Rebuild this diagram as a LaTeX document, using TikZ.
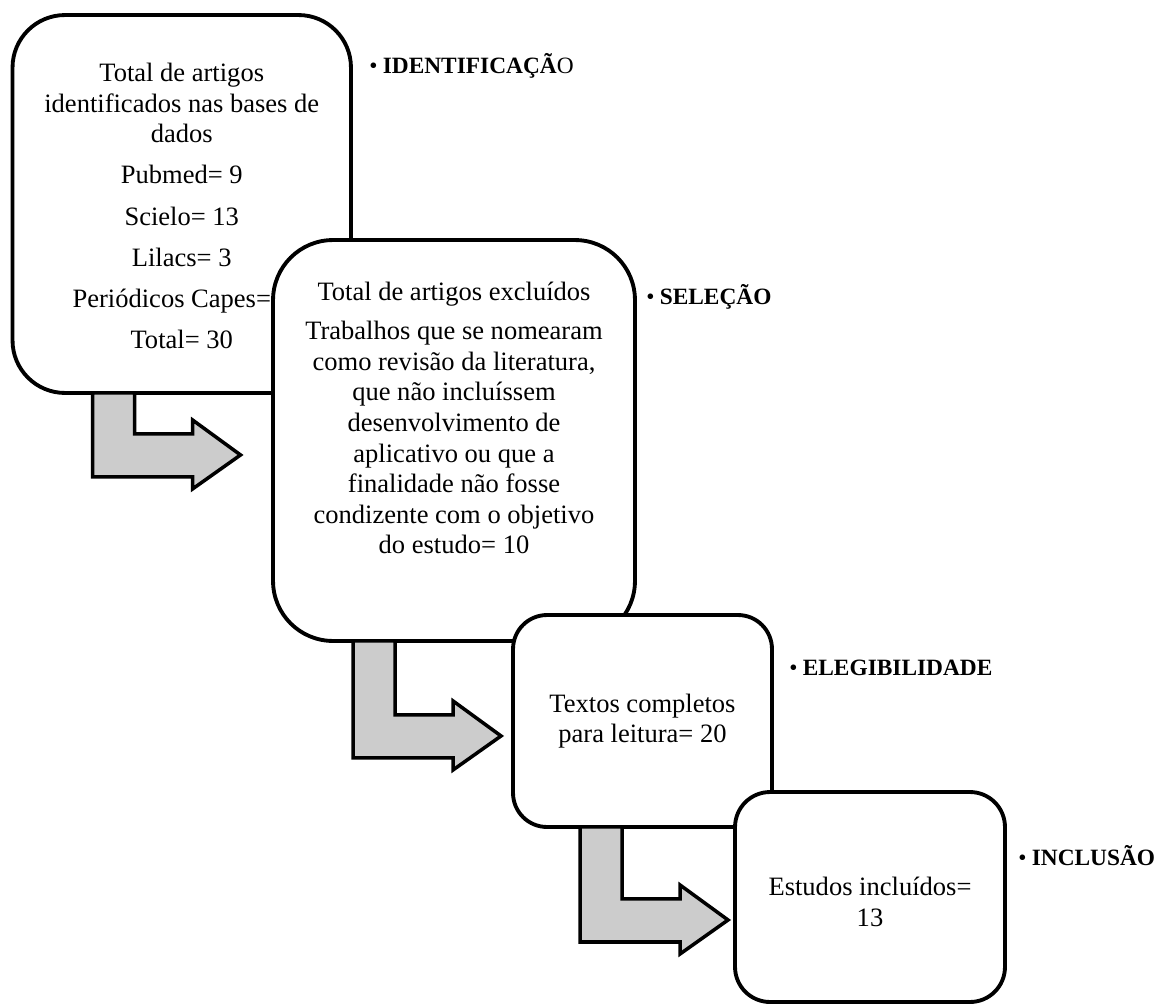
\documentclass[tikz,border=0pt]{standalone}
\usepackage{fontspec}
\setmainfont{Liberation Serif}
\usetikzlibrary{calc}

\tikzstyle{stepbox} = [draw,line width=2.2pt,fill=white,inner sep=0pt,outer sep=0pt]
\tikzstyle{boxtext} = [align=center,inner sep=0pt,font=\fontsize{15.1pt}{17.4pt}\selectfont]
\tikzstyle{stage} = [anchor=base west,inner sep=0pt,font=\fontsize{13.3pt}{16pt}\selectfont]
\tikzstyle{bentarrow} = [draw,line width=2pt,fill=gray!40,line join=miter]

\begin{document}
\begin{tikzpicture}[x=0.02cm,y=-0.02cm]
    \useasboundingbox (0,0) rectangle (1159,1004);
    % boxes, back to front
    \foreach \nodename/\x/\y/\w/\h/\r/\ty/\content in {
      ident/181.75/204/6.77/7.56/1.05/206/{Total de artigos\\identificados nas bases de\\dados\\[6pt]Pubmed= 9\\[6pt]Scielo= 13\\[6pt]Lilacs= 3\\[6pt]Periódicos Capes=\phantom{\ 5}\\[6pt]Total= 30},
      sel/454/440.5/7.24/8.02/1.2/418/{Total de artigos excluídos\\[5pt]Trabalhos que se nomearam\\como revisão da literatura,\\que não incluíssem\\desenvolvimento de\\aplicativo ou que a\\finalidade não fosse\\condizente com o objetivo\\do estudo= 10},
      eleg/642.5/721/5.18/4.24/0.68/721/{Textos completos\\para leitura= 20},
      incl/870/897/5.4/4.2/0.7/902/{Estudos incluídos=\\13}}
    {
        \node[stepbox,minimum width=\w cm,minimum height=\h cm,rounded corners=\r cm] (\nodename) at (\x,\y) {};
        \node[boxtext] (\nodename-text) at (\x,\ty) {\content};
    };
    % arrows
    \foreach \from/\dx/\len in {ident/80/84, sel/80/117, eleg/67/115}
    {
        \draw[bentarrow] ($(\from.south west)+(\dx,0)$) coordinate (s) -- ++(0,\len) -- ++(100,0) -- ++(0,12)
          -- ++(48,-34) -- ++(-48,-35) -- ++(0,14) -- ++(-58,0) |- (s) -- cycle;
    };
    % stage labels
    \foreach \nodename/\x/\y/\name in {
      identlabel/369/73/{\textbf{IDENTIFICAÇÃ}O},
      sellabel/646/304/{\textbf{SELEÇÃO}},
      eleglabel/789/675/{\textbf{ELEGIBILIDADE}},
      incllabel/1018/865/{\textbf{INCLUSÃO}}}
    {
        \node[stage] (\nodename) at (\x,\y) {\textbullet\hspace{3pt}\name};
    };
\end{tikzpicture}
\end{document}
